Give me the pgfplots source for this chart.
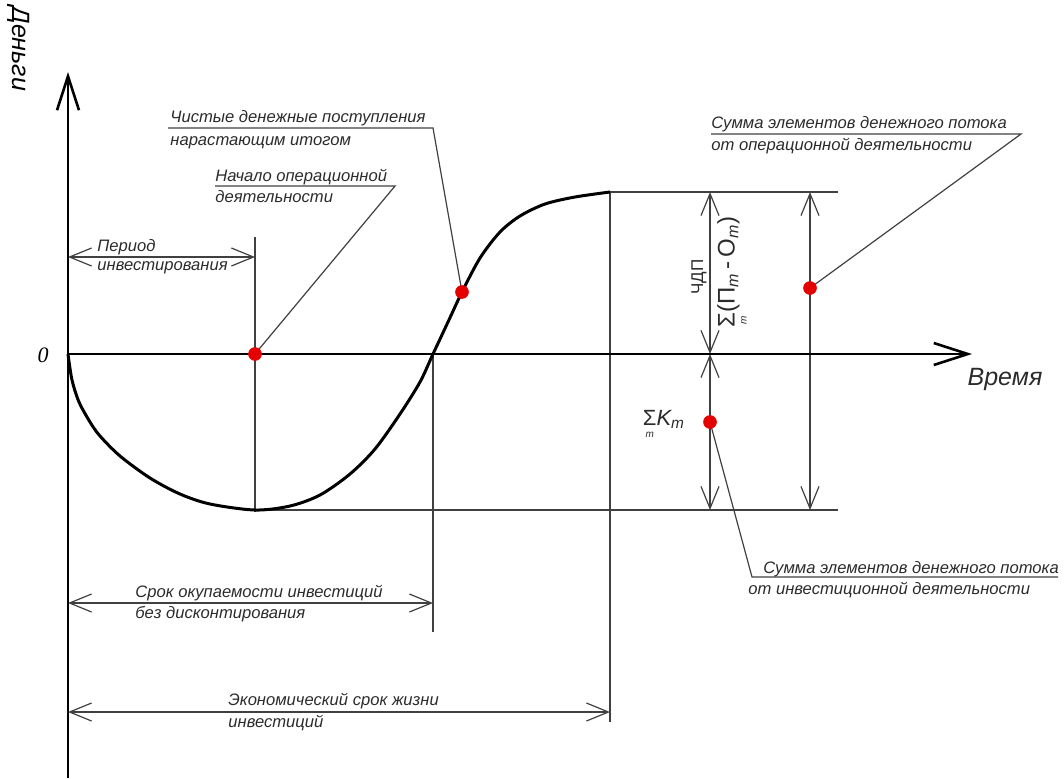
\documentclass[border=0pt]{standalone}
\usepackage{fontspec}
\setmainfont{Liberation Sans}
\newfontfamily\serifit{Liberation Serif}
\usepackage{pgfplots}
\pgfplotsset{compat=1.18}
\usetikzlibrary{arrows.meta}
\definecolor{ln}{HTML}{404040}
\definecolor{tx}{HTML}{2B2B2B}
\definecolor{dot}{HTML}{E50000}
\newcommand{\sumsub}{\ensuremath{\mathop{\hbox{Σ}}\limits_{\hbox{\tiny\itshape m}}}}
\begin{document}
\begin{tikzpicture}[
  dim/.style={draw=ln, line width=0.6pt, {Straight Barb[length=11pt,width=9pt]}-{Straight Barb[length=11pt,width=9pt]}},
  tl/.style={draw=ln, line width=0.6pt},
  lbl/.style={font=\fontsize{8.3}{10}\selectfont\itshape, text=tx, inner sep=0pt, anchor=base west},
]
\begin{axis}[width=532pt,height=389pt,scale only axis,
  xmin=0,xmax=1064,ymin=0,ymax=778,y dir=reverse,hide axis,clip=false]
% thin construction lines
\draw[tl] (255,237) -- (255,512);
\draw[tl] (433,354) -- (433,632);
\draw[tl] (610,192) -- (610,722);
\draw[tl] (610,192) -- (838,192);
\draw[tl] (255,510) -- (838,510);
% dimension arrows
\draw[dim] (710,192) -- (710,354);
\draw[dim] (710,354) -- (710,510);
\draw[dim] (810,192) -- (810,510);
\draw[dim] (68,257) -- (255,257);
\draw[dim] (68,603) -- (433,603);
\draw[dim] (68,712) -- (610,712);
% leaders and underlines
\draw[tl] (168,128) -- (433,128) -- (462,292);
\draw[tl] (215,186) -- (395,186) -- (255,354);
\draw[tl] (711,134) -- (1021,134) -- (810,288);
\draw[tl] (1058,577) -- (752,577) -- (710,422);
% axes
\draw[line width=1.3pt, -{Straight Barb[length=17pt,width=11pt]}] (68,778) -- (68,72);
\draw[line width=1.3pt, -{Straight Barb[length=17pt,width=11pt]}] (68,354) -- (972,354);
% curve
\addplot[black, line width=1.5pt, smooth, tension=0.5] coordinates {
(68,354) (72,380) (79,402) (90,422) (100,436) (120,456) (150,478) (180,494)
(210,504) (255,510) (290,506) (320,495) (350,474) (375,449) (400,414)
(420,382) (433,354) (448,322) (462,292) (480,258) (500,232) (520,216)
(545,204) (575,197) (610,192)};
% red points
\addplot[only marks, mark=*, mark size=3.2pt, color=dot, mark options={fill=dot, draw=dot}]
coordinates {(255,354) (462,292) (810,288) (710,422)};
% texts
\node[lbl] at (170,122) {Чистые денежные поступления};
\node[lbl] at (170,145) {нарастающим итогом};
\node[lbl] at (215,181) {Начало операционной};
\node[lbl] at (215,202) {деятельности};
\node[lbl] at (97,251) {Период};
\node[lbl] at (97,270) {инвестирования};
\node[lbl] at (711,128) {Сумма элементов денежного потока};
\node[lbl] at (711,150) {от операционной деятельности};
\node[lbl] at (763,573) {Сумма элементов денежного потока};
\node[lbl] at (748,594) {от инвестиционной деятельности};
\node[lbl] at (135,597) {Срок окупаемости инвестиций};
\node[lbl] at (135,618) {без дисконтирования};
\node[lbl] at (228,705) {Экономический срок жизни};
\node[lbl] at (228,727) {инвестиций};
\node[font=\fontsize{12.5}{13}\selectfont\itshape, text=black, rotate=-90, anchor=west, inner sep=0pt] at (19,6) {Деньги};
\node[font=\fontsize{12.5}{13}\selectfont\itshape, text=tx, inner sep=0pt] at (1005,379) {Время};
\node[font=\fontsize{11}{11}\selectfont\serifit\itshape, inner sep=0pt] at (43,355) {0};
\node[font=\fontsize{8.5}{10}\selectfont, text=tx, rotate=90, inner sep=0pt] at (699,277) {ЧДП};
\node[font=\fontsize{12}{12}\selectfont, text=tx, rotate=90, inner sep=0pt] at (733,272) {\sumsub(П\textsubscript{\itshape m}\,-\,О\textsubscript{\itshape m})};
\node[font=\fontsize{11}{11}\selectfont, text=tx, inner sep=0pt] at (664,425) {\sumsub\itshape K\textsubscript{m}};
\end{axis}
\pgfresetboundingbox
\path (current axis.south west) rectangle (current axis.north east);
\end{tikzpicture}
\end{document}
